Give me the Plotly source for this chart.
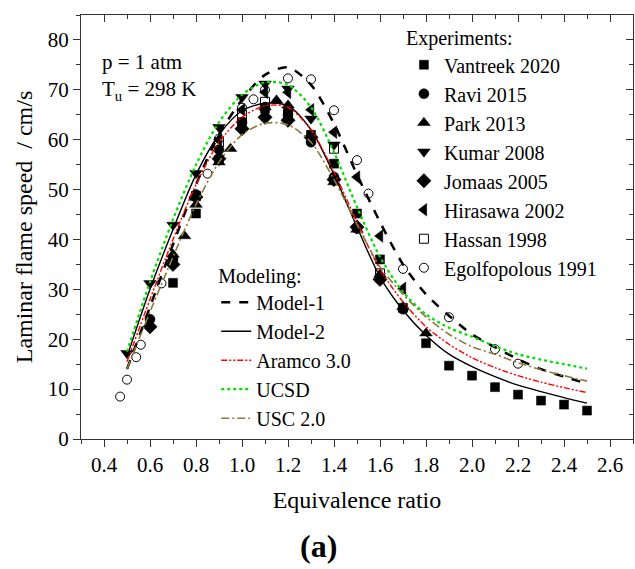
import plotly.graph_objects as go

# ---------------- data ----------------
# Experiments
vantreek_phi = [0.7, 0.8, 0.9, 1.0, 1.1, 1.2, 1.3, 1.4, 1.5, 1.6, 1.7, 1.8, 1.9, 2.0, 2.1, 2.2, 2.3, 2.4, 2.5]
vantreek_su = [31.3, 45.2, 56.0, 63.5, 66.2, 65.5, 61.0, 55.2, 45.2, 36.0, 26.3, 19.2, 14.7, 12.7, 10.4, 8.9, 7.7, 6.9, 5.7]

ravi_phi = [0.6, 0.7, 0.8, 0.9, 1.0, 1.1, 1.2, 1.3, 1.4, 1.5, 1.6, 1.7]
ravi_su = [24.0, 36.0, 49.0, 58.0, 63.5, 66.5, 65.0, 59.5, 52.5, 42.2, 32.0, 26.0]

park_phi = [0.7, 0.75, 0.8, 0.9, 0.95, 1.0, 1.1, 1.15, 1.2, 1.3, 1.4, 1.5, 1.6, 1.7, 1.8]
park_su = [37.0, 40.7, 47.0, 55.5, 58.2, 62.5, 66.5, 67.9, 66.9, 61.0, 51.5, 42.0, 33.0, 26.5, 21.2]

kumar_phi = [0.5, 0.6, 0.7, 0.8, 0.9, 1.0, 1.1, 1.2, 1.3, 1.4]
kumar_su = [17.2, 31.2, 42.9, 53.3, 62.5, 68.5, 71.2, 70.2, 64.2, 59.0]

jomaas_phi = [0.6, 0.7, 0.8, 0.9, 1.0, 1.1, 1.2, 1.3, 1.4, 1.5, 1.6]
jomaas_su = [22.5, 35.0, 48.5, 56.2, 62.2, 64.5, 63.9, 60.5, 52.0, 42.5, 32.0]

hirasawa_phi = [0.9, 1.0, 1.1, 1.2, 1.3, 1.4, 1.5, 1.6, 1.7]
hirasawa_su = [60.0, 66.0, 69.5, 69.5, 66.0, 61.5, 52.5, 40.7, 30.2]

hassan_phi = [0.8, 0.9, 1.0, 1.1, 1.2, 1.4, 1.6]
hassan_su = [48.7, 59.5, 65.0, 67.6, 65.0, 58.2, 33.2]

egolf_phi = [0.47, 0.5, 0.54, 0.56, 0.65, 0.7, 0.85, 0.9, 1.0, 1.05, 1.1, 1.2, 1.3, 1.4, 1.5, 1.55, 1.7, 1.9, 2.1, 2.2]
egolf_su = [8.5, 11.9, 16.4, 18.9, 31.2, 36.5, 53.2, 60.2, 66.4, 68.1, 70.0, 72.3, 72.1, 65.9, 55.9, 49.2, 34.1, 24.4, 18.0, 15.1]

# Modeling
model_phi = [0.5, 0.6, 0.7, 0.8, 0.9, 1.0, 1.1, 1.2, 1.3, 1.4, 1.5, 1.6, 1.7, 1.8, 1.9, 2.0, 2.1, 2.2, 2.3, 2.4, 2.5]
model1_su = [14.0, 26.5, 39.0, 51.0, 61.0, 68.0, 73.0, 74.5, 71.0, 63.2, 53.0, 43.5, 35.0, 29.0, 24.7, 21.0, 18.4, 16.0, 14.0, 12.5, 11.1]
model2_su = [16.5, 30.0, 42.0, 53.0, 61.0, 65.8, 67.3, 66.8, 62.0, 53.0, 42.5, 32.5, 25.8, 20.8, 17.0, 14.5, 12.5, 10.8, 9.5, 8.3, 7.2]
aramco_su = [15.5, 28.0, 40.0, 51.0, 59.5, 64.5, 66.8, 66.5, 62.0, 53.5, 43.5, 34.0, 27.5, 22.5, 19.0, 16.3, 14.3, 12.7, 11.4, 10.3, 9.3]
ucsd_su = [17.5, 31.5, 44.0, 55.0, 63.5, 69.0, 71.5, 71.0, 66.5, 57.5, 46.5, 36.5, 29.5, 25.0, 22.3, 20.5, 18.6, 17.0, 15.9, 15.0, 14.1]
usc_su = [14.0, 25.5, 36.5, 47.0, 55.5, 61.0, 63.3, 63.0, 59.5, 52.0, 43.0, 34.5, 29.0, 24.5, 21.0, 18.5, 17.0, 15.3, 13.9, 12.7, 11.6]

x_ticks = [0.4, 0.6, 0.8, 1.0, 1.2, 1.4, 1.6, 1.8, 2.0, 2.2, 2.4, 2.6]
y_ticks = [0, 10, 20, 30, 40, 50, 60, 70, 80]

FONT = "Liberation Serif"

fig = go.Figure()

experiments = [
    ("Vantreek 2020", vantreek_phi, vantreek_su, "square", 9),
    ("Ravi 2015", ravi_phi, ravi_su, "circle", 10),
    ("Park 2013", park_phi, park_su, "triangle-up", 11),
    ("Kumar 2008", kumar_phi, kumar_su, "triangle-down", 11),
    ("Jomaas 2005", jomaas_phi, jomaas_su, "diamond", 11),
    ("Hirasawa 2002", hirasawa_phi, hirasawa_su, "triangle-left", 11),
    ("Hassan 1998", hassan_phi, hassan_su, "square-open", 9),
    ("Egolfopolous 1991", egolf_phi, egolf_su, "circle-open", 9),
]
for name, xs, ys, sym, size in experiments:
    if "open" in sym:
        mk = dict(symbol=sym, size=size, color="black", line=dict(width=1))
    else:
        mk = dict(symbol=sym, size=size, color="black", line=dict(color="black", width=0.5))
    fig.add_trace(go.Scatter(x=xs, y=ys, mode="markers", name=name, legend="legend", marker=mk))

models = [
    ("Model-1", model1_su, "black", 2.5, "dash"),
    ("Model-2", model2_su, "black", 1.4, "solid"),
    ("Aramco 3.0", aramco_su, "#ff0000", 1.4, "6px,2px,2px,2px,2px,2px"),
    ("UCSD", ucsd_su, "#00dd00", 2.2, "dot"),
    ("USC 2.0", usc_su, "#8c7a3a", 1.6, "8px,3px,2px,3px"),
]
for name, ys, col, w, dash in models:
    fig.add_trace(go.Scatter(
        x=model_phi, y=ys, mode="lines", name=name, legend="legend2",
        line=dict(color=col, width=w, dash=dash, shape="spline", smoothing=0.8),
    ))

# invisible trace for mirrored (inward) top/right axes
fig.add_trace(go.Scatter(x=[1.5], y=[40], xaxis="x2", yaxis="y2", mode="markers",
                         marker=dict(opacity=0), showlegend=False, hoverinfo="skip"))

axis_common = dict(showgrid=False, zeroline=False, showline=True, linecolor="#333333", linewidth=1.3,
                   tickcolor="#333333", tickwidth=1.3,
                   tickfont=dict(family=FONT, size=21, color="black"))

fig.update_layout(
    width=635, height=569,
    margin=dict(l=81, r=2, t=15, b=130),
    paper_bgcolor="white", plot_bgcolor="white",
    font=dict(family=FONT, color="black"),
    xaxis=dict(range=[0.3, 2.7], tickvals=x_ticks, ticktext=[f"{v:.1f}" for v in x_ticks],
               ticks="outside", ticklen=7,
               minor=dict(ticks="outside", dtick=0.1, tick0=0.3, ticklen=4, tickcolor="#333333", tickwidth=1.3),
               title=dict(text="Equivalence ratio", font=dict(family=FONT, size=24), standoff=14),
               **axis_common),
    yaxis=dict(range=[0, 85], tickvals=y_ticks, ticks="outside", ticklen=7,
               minor=dict(ticks="outside", dtick=5, tick0=0, ticklen=4, tickcolor="#333333", tickwidth=1.3),
               title=dict(text="Laminar flame speed  / cm/s", font=dict(family=FONT, size=24), standoff=8),
               **axis_common),
    xaxis2=dict(range=[0.3, 2.7], overlaying="x", side="top", anchor="y", tickvals=x_ticks,
                showticklabels=False, ticks="inside", ticklen=7,
                minor=dict(ticks="inside", dtick=0.1, tick0=0.3, ticklen=4, tickcolor="#333333", tickwidth=1.3),
                **axis_common),
    yaxis2=dict(range=[0, 85], overlaying="y", side="right", anchor="x", tickvals=y_ticks,
                showticklabels=False, ticks="inside", ticklen=7,
                minor=dict(ticks="inside", dtick=5, tick0=0, ticklen=4, tickcolor="#333333", tickwidth=1.3),
                **axis_common),
    legend=dict(x=0.585, y=0.99, xanchor="left", yanchor="top", bgcolor="rgba(0,0,0,0)",
                title=dict(text="Experiments:", font=dict(family=FONT, size=20)),
                font=dict(family=FONT, size=20), tracegroupgap=0),
    legend2=dict(x=0.245, y=0.43, xanchor="left", yanchor="top", bgcolor="rgba(0,0,0,0)",
                 title=dict(text="Modeling:", font=dict(family=FONT, size=20)),
                 font=dict(family=FONT, size=20), tracegroupgap=0),
    showlegend=True,
    annotations=[
        dict(text="p = 1 atm<br>T<sub>u</sub> = 298 K", xref="paper", yref="paper",
             x=(100 - 81) / 552, y=(439 - 48) / 424, xanchor="left", yanchor="top", align="left",
             showarrow=False, font=dict(family=FONT, size=21)),
        dict(text="<b>(a)</b>", xref="paper", yref="paper", x=0.43, y=(439 - 546) / 424,
             xanchor="center", yanchor="middle", showarrow=False, font=dict(family=FONT, size=32)),
    ],
)

fig.write_html("out.html")
